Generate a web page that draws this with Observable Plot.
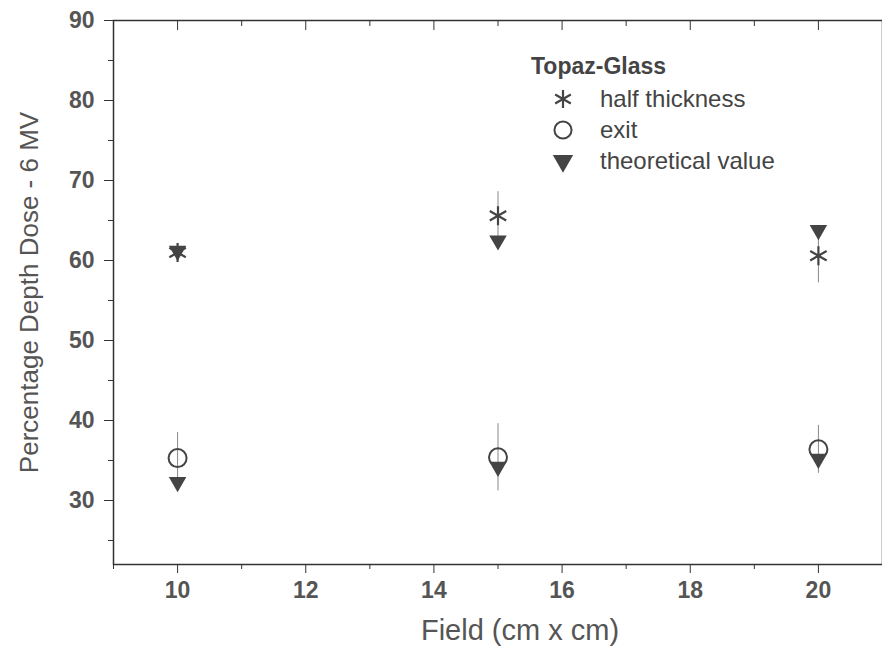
<!DOCTYPE html>
<html>
<head>
<meta charset="utf-8">
<script src="https://cdn.jsdelivr.net/npm/d3@7"></script>
<script src="https://cdn.jsdelivr.net/npm/@observablehq/plot@0.6"></script>
<style>
  html, body { margin: 0; padding: 0; background: #fff; }
  #wrap { position: relative; width: 882px; height: 657px; font-family: "Liberation Sans", Arial, sans-serif; }
  #legend { position: absolute; left: 531px; top: 51px; color: #444; }
  #legend .title { font-weight: bold; font-size: 23px; height: 32px; line-height: 30px; }
  #legend .row { display: flex; align-items: center; height: 31px; font-size: 24px; }
  #legend .row svg { margin-left: 20px; margin-right: 25px; }
</style>
</head>
<body>
<div id="wrap"><div id="legend"></div></div>
<script>
// ---- data ----
const fields = [10, 15, 20];
const halfThickness = [61.0, 65.6, 60.6];
const halfThicknessErr = [0.6, 3.0, 3.4];
const exitDose = [35.3, 35.4, 36.4];
const exitErr = [3.2, 4.2, 3.0];
const theoreticalHalf = [61.2, 62.5, 63.8];
const theoreticalExit = [32.3, 34.2, 35.2];
const xTicks = [10, 12, 14, 16, 18, 20];
const xMinorTicks = [9, 11, 13, 15, 17, 19, 21];
const yTicks = [30, 40, 50, 60, 70, 80, 90];
const yMinorTicks = [25, 35, 45, 55, 65, 75, 85];
const xLabel = "Field (cm x cm)";
const yLabel = "Percentage Depth Dose - 6 MV";
const legendTitle = "Topaz-Glass";
const seriesNames = ["half thickness", "exit", "theoretical value"];

const half = fields.map((f, i) => ({x: f, y: halfThickness[i], e: halfThicknessErr[i]}));
const ex = fields.map((f, i) => ({x: f, y: exitDose[i], e: exitErr[i]}));
const theo = fields.map((f, i) => ({x: f, y: theoreticalHalf[i]}))
  .concat(fields.map((f, i) => ({x: f, y: theoreticalExit[i]})));

const font = "Liberation Sans, Arial, sans-serif";

const chart = Plot.plot({
  width: 882,
  height: 657,
  marginLeft: 113,
  marginRight: 0,
  marginTop: 20,
  marginBottom: 93,
  style: {fontFamily: font, background: "#fff"},
  x: {domain: [9, 21]},
  y: {domain: [22, 90]},
  marks: [
    Plot.frame({stroke: "#333", strokeWidth: 1.5}),
    // bottom axis
    Plot.axisX({anchor: "bottom", ticks: xTicks, tickSize: 9, tickPadding: 8, fontSize: 23, fontWeight: "bold", fill: "#555", stroke: "#333", label: null, tickFormat: d => String(d)}),
    Plot.axisX({anchor: "bottom", ticks: xMinorTicks, tickSize: 5, text: null, stroke: "#333", label: null}),
    // top axis (inward ticks)
    Plot.axisX({anchor: "top", ticks: xTicks, tickSize: -9, text: null, stroke: "#333", label: null}),
    Plot.axisX({anchor: "top", ticks: xMinorTicks, tickSize: -5, text: null, stroke: "#333", label: null}),
    // left axis
    Plot.axisY({anchor: "left", ticks: yTicks, tickSize: 9, tickPadding: 10, fontSize: 23, fontWeight: "bold", fill: "#555", stroke: "#333", label: null}),
    Plot.axisY({anchor: "left", ticks: yMinorTicks, tickSize: 5, text: null, stroke: "#333", label: null}),
    // axis titles
    Plot.text([yLabel], {frameAnchor: "left", rotate: -90, textAnchor: "middle", dx: -84, fontSize: 26, fill: "#555", text: d => d}),
    Plot.text([xLabel], {frameAnchor: "bottom", textAnchor: "middle", dx: 22, dy: 75, fontSize: 29, fill: "#555", text: d => d}),
    // error bars
    Plot.ruleX(half, {x: "x", y1: d => d.y - d.e, y2: d => d.y + d.e, stroke: "#888", strokeWidth: 1}),
    Plot.ruleX(ex, {x: "x", y1: d => d.y - d.e, y2: d => d.y + d.e, stroke: "#888", strokeWidth: 1}),
    // points
    Plot.dot(theo, {x: "x", y: "y", symbol: "triangle", rotate: 180, r: 6.5, fill: "#444", stroke: "none"}),
    Plot.dot(ex, {x: "x", y: "y", symbol: "circle", r: 9, fill: "white", fillOpacity: 0, stroke: "#444", strokeWidth: 2}),
    Plot.dot(half, {x: "x", y: "y", symbol: "asterisk", r: 9, stroke: "#444", strokeWidth: 2.2})
  ]
});
document.getElementById("wrap").prepend(chart);

// legend
const legend = document.getElementById("legend");
const t = document.createElement("div");
t.className = "title";
t.textContent = legendTitle;
legend.appendChild(t);
const syms = [
  {sym: d3.symbolAsterisk, size: 230, fill: "none", stroke: "#444", sw: 2.2, rot: 0},
  {sym: d3.symbolCircle, size: 230, fill: "none", stroke: "#444", sw: 2, rot: 0},
  {sym: d3.symbolTriangle, size: 180, fill: "#444", stroke: "none", sw: 0, rot: 180}
];
seriesNames.forEach((name, i) => {
  const row = document.createElement("div");
  row.className = "row";
  const s = syms[i];
  const svg = d3.create("svg").attr("width", 24).attr("height", 24);
  svg.append("path")
    .attr("d", d3.symbol(s.sym, s.size)())
    .attr("transform", `translate(12,12) rotate(${s.rot})`)
    .attr("fill", s.fill).attr("stroke", s.stroke).attr("stroke-width", s.sw);
  row.appendChild(svg.node());
  const span = document.createElement("span");
  span.textContent = name;
  row.appendChild(span);
  legend.appendChild(row);
});
</script>
</body>
</html>
